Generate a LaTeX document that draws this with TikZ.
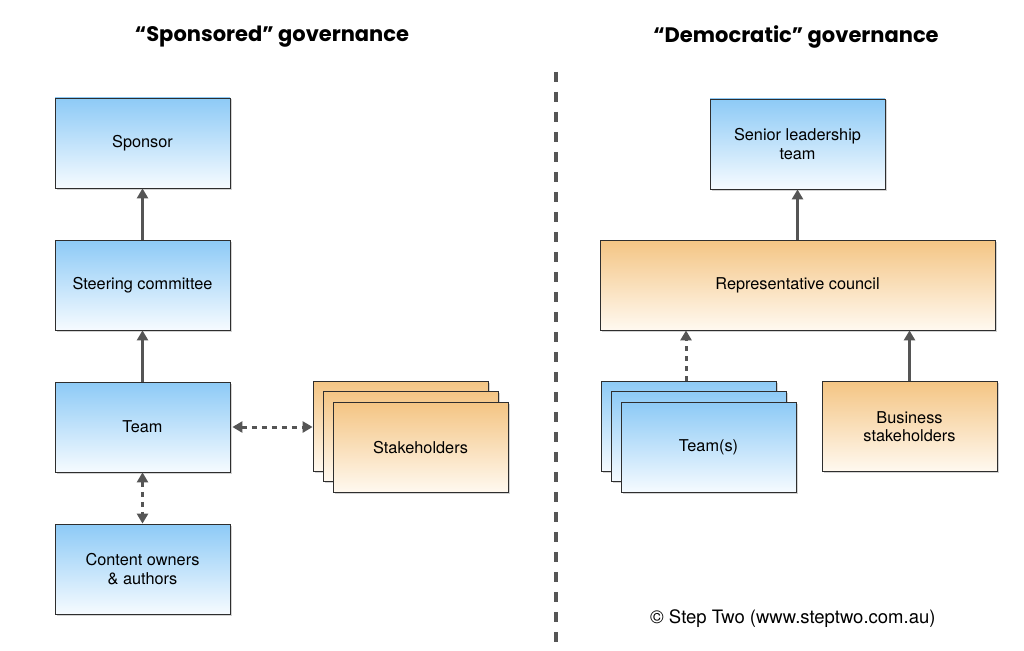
\documentclass[tikz,border=0pt]{standalone}
\usepackage{fontspec}
\setmainfont{TeX Gyre Heros}
\newfontfamily\headfont{Poppins}
\usetikzlibrary{arrows.meta,shadows}
\definecolor{ink}{HTML}{2E2E2E}
\definecolor{arrowgray}{HTML}{555555}
\definecolor{bluetop}{HTML}{8DCAF6}
\definecolor{bluebot}{HTML}{F6FBFF}
\definecolor{orangetop}{HTML}{F4C584}
\definecolor{orangebot}{HTML}{FFF9F0}
\tikzset{
  font=\fontsize{16.3}{18.5}\selectfont,
  >={Triangle[length=10pt,width=11pt]},
  box/.style={draw=ink, line width=.8pt, align=center,
    minimum width=175pt, minimum height=90pt, inner sep=3pt,
    drop shadow={shadow xshift=1.5pt, shadow yshift=-1.5pt, opacity=.35}},
  bluebox/.style={box, top color=bluetop, bottom color=bluebot},
  orangebox/.style={box, top color=orangetop, bottom color=orangebot},
  link/.style={draw=arrowgray, line width=2.6pt, ->},
  dashlink/.style={draw=arrowgray, line width=3pt, dash pattern=on 5pt off 5pt},
  heading/.style={font=\headfont\bfseries\fontsize{21}{24}\selectfont, text=black}
}
\begin{document}
\begin{tikzpicture}[x=1pt,y=-1pt]
  \useasboundingbox (0,0) rectangle (1024,650);

  % -------------------------------------------------------------------
  % Left: sponsored governance.
  \node[heading] (sponsoredTitle) at (272,37) {“Sponsored” governance};

  \node[bluebox] (sponsor) at (142.5,143) {Sponsor};
  \node[bluebox] (steering) at (142.5,285) {Steering committee};
  \node[bluebox] (team) at (142.5,427) {Team};
  \node[bluebox] (owners) at (142.5,569) {Content owners\\\& authors};

  \node[orangebox] (stakeA) at (400.5,426) {};
  \node[orangebox] (stakeB) at (410.5,436.5) {};
  \node[orangebox] (stakeC) at (420.5,447.5) {Stakeholders};

  \draw[link] (steering) -- (sponsor);
  \draw[link] (team) -- (steering);
  \draw[dashlink, <->] (team) -- (owners);
  \draw[dashlink, <->] (team.east) ++(2,0) -- (stakeA.west |- team.east);

  % -------------------------------------------------------------------
  % Divider.
  \coordinate (divTop) at (556,72);
  \coordinate (divBot) at (556,642);
  \draw[draw=arrowgray, line width=4.5pt, dash pattern=on 10pt off 10pt]
    (divTop) -- (divBot);

  % -------------------------------------------------------------------
  % Right: democratic governance.
  \node[heading] (democraticTitle) at (796,37) {“Democratic” governance};

  \node[bluebox] (senior) at (797.5,144) {Senior leadership\\team};
  \node[orangebox, minimum width=395pt] (council) at (797.5,285)
    {Representative council};

  \node[bluebox] (teamsA) at (688.5,426) {};
  \node[bluebox] (teamsB) at (698.5,436.5) {};
  \node[bluebox] (teamsC) at (708.5,447.5) {Team(s)};
  \node[orangebox] (business) at (909.5,426.5) {Business\\stakeholders};

  \draw[link] (council) -- (senior);
  \draw[dashlink, ->] (teamsA.north -| 686,0) -- (council.south -| 686,0);
  \draw[link] (business) -- (council.south -| business);

  \node[anchor=east, font=\fontsize{18.5}{21}\selectfont] (credit) at (939,619)
    {© Step Two (www.steptwo.com.au)};
\end{tikzpicture}
\end{document}
